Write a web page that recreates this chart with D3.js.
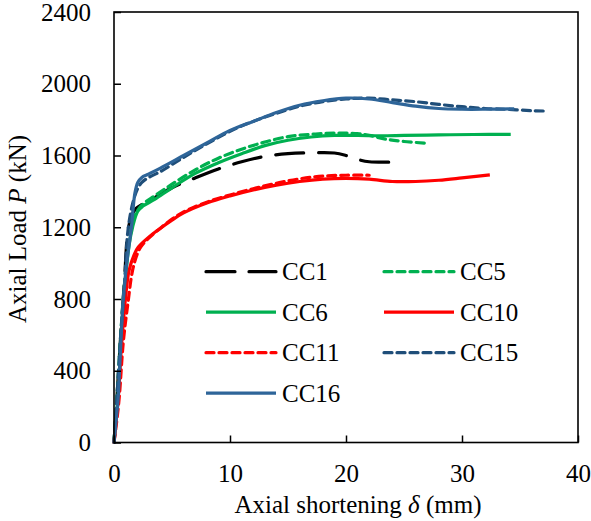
<!DOCTYPE html>
<html lang="en">
<head>
<meta charset="UTF-8">
<title>Axial load vs shortening</title>
<script src="https://d3js.org/d3.v7.min.js"></script>
<style>
  body { margin: 0; background: #fff; }
  svg text { font-family: "Liberation Serif", "Times New Roman", serif; fill: #000; }
</style>
</head>
<body>
<script>
var width = 591, height = 521;
var margin = {left: 114, top: 12, right: 13, bottom: 78.5};

// data: [shortening (mm), load (kN)]
var names = ["CC1", "CC5", "CC6", "CC10", "CC11", "CC15", "CC16"];
var xTicks = [0, 10, 20, 30, 40];
var yTicks = [0, 400, 800, 1200, 1600, 2000, 2400];

var cc1 = [[0,0],[0.15,150],[0.3,300],[0.6,620],[0.9,900],[1.2,1180],[1.5,1260],[1.9,1305],[2.5,1330],[3.5,1365],[5,1420],[7,1475],[9,1525],[11,1565],[13,1595],[15,1610],[17,1615],[19,1614],[20,1600],[21,1578],[22,1565],[24,1563]];
var cc5 = [[0,0],[0.15,150],[0.3,300],[0.6,620],[0.9,880],[1.3,1130],[1.7,1250],[2.1,1300],[2.6,1335],[3.5,1375],[5,1440],[7,1520],[9,1585],[11,1635],[13,1675],[15,1705],[17,1718],[19,1725],[21,1722],[22,1712],[23.5,1690],[25,1678],[27,1668]];
var cc6 = [[0,0],[0.15,120],[0.35,260],[0.6,560],[0.9,850],[1.3,1100],[1.6,1200],[2.05,1290],[2.5,1318],[3.5,1355],[5,1420],[7,1500],[9,1560],[11,1610],[13,1655],[15,1685],[17,1703],[19,1712],[21,1712],[23,1710],[25,1712],[28,1715],[31,1717],[34.2,1718]];
var cc10 = [[0,0],[0.15,100],[0.35,230],[0.6,500],[0.95,777],[1.3,960],[1.8,1056],[2.1,1090],[3,1145],[3.8,1185],[5,1240],[6,1280],[8,1335],[10,1375],[12,1408],[14,1435],[16,1455],[18,1468],[20,1472],[22,1468],[24,1455],[26,1455],[28,1462],[30,1475],[32.4,1492]];
var cc11 = [[0,0],[0.2,100],[0.45,250],[0.8,560],[1.2,777],[1.6,960],[2,1050],[2.3,1090],[3,1140],[4,1195],[5,1245],[6,1285],[8,1340],[10,1380],[12,1415],[14,1445],[16,1470],[18,1485],[20,1490],[22,1490]];
var cc15 = [[0,0],[0.15,150],[0.3,300],[0.6,620],[0.9,870],[1.2,1180],[1.6,1330],[2,1410],[2.4,1450],[3,1478],[4,1510],[6,1590],[8,1665],[10,1735],[12,1790],[14,1835],[16,1875],[18,1900],[20,1915],[22,1920],[24,1910],[26,1900],[28,1885],[30,1872],[32,1862],[34,1857],[36,1850],[37,1848]];
var cc16 = [[0,0],[0.15,100],[0.35,240],[0.55,500],[0.8,800],[1.1,1000],[1.5,1200],[1.8,1390],[2.05,1450],[2.4,1478],[2.9,1494],[4,1530],[6,1600],[8,1670],[10,1740],[12,1790],[14,1840],[16,1880],[18,1905],[20,1920],[22,1915],[24,1895],[26,1875],[28,1862],[30,1858],[32,1858],[34.5,1860]];

var seriesValues = [cc1, cc5, cc6, cc10, cc11, cc15, cc16];
var colors = ["#000000", "#00b050", "#00b050", "#ff0000", "#ff0000", "#1f4e79", "#2e6599"];
var dashes = ["28,15", "8,5", null, null, "8,5", "8,5", null];

var w = width - margin.left - margin.right,
    h = height - margin.top - margin.bottom;
var fs = "25px";

var svg = d3.select("body").append("svg")
    .attr("width", width).attr("height", height)
    .attr("font-family", "Liberation Serif");

var g = svg.append("g")
    .attr("transform", "translate(" + margin.left + "," + margin.top + ")");

var x = d3.scaleLinear().domain([0, 40]).range([0, w]);
var y = d3.scaleLinear().domain([0, 2400]).range([h, 0]);

var line = d3.line()
    .x(function(d){ return x(d[0]); })
    .y(function(d){ return y(d[1]); })
    .curve(d3.curveCatmullRom.alpha(0.5));

// series, drawn so the solid ones sit on top of their dashed twins
var order = [0, 1, 2, 4, 3, 5, 6];
order.forEach(function(i){
    g.append("path")
        .datum(seriesValues[i])
        .attr("d", line)
        .attr("fill", "none")
        .attr("stroke", colors[i])
        .attr("stroke-width", 3.2)
        .attr("stroke-linecap", dashes[i] ? "round" : "butt")
        .attr("stroke-dasharray", dashes[i]);
});

// axes with inward ticks
var xAxis = g.append("g").attr("transform", "translate(0," + h + ")")
    .call(d3.axisBottom(x).tickValues(xTicks).tickSize(-7).tickPadding(22).tickFormat(d3.format("d")));
var yAxis = g.append("g")
    .call(d3.axisLeft(y).tickValues(yTicks).tickSize(-7).tickPadding(23).tickFormat(d3.format("d")));

[xAxis, yAxis].forEach(function(a){
    a.attr("font-family", "Liberation Serif");
    a.select(".domain").remove();
    a.selectAll("line").attr("stroke", "#000").attr("stroke-width", 1.5);
    a.selectAll("text").style("font-size", fs);
});

// plot frame
g.append("rect")
    .attr("width", w).attr("height", h)
    .attr("fill", "none").attr("stroke", "#000").attr("stroke-width", 1.6);

// axis titles
var xt = svg.append("text")
    .attr("x", 358).attr("y", 513)
    .attr("text-anchor", "middle").style("font-size", fs);
xt.append("tspan").text("Axial shortening ");
xt.append("tspan").style("font-style", "italic").text("δ");
xt.append("tspan").text(" (mm)");

var yt = svg.append("text")
    .attr("transform", "translate(26,229) rotate(-90)")
    .attr("text-anchor", "middle").style("font-size", fs);
yt.append("tspan").text("Axial Load ");
yt.append("tspan").style("font-style", "italic").text("P");
yt.append("tspan").text(" (kN)");

// legend: two columns, filled row by row
var legend = g.selectAll(".legend").data(names).enter().append("g")
    .attr("transform", function(d, i){
        return "translate(" + (i % 2 ? 270 : 92) + "," + (259.7 + Math.floor(i / 2) * 40.5) + ")";
    });

legend.append("line")
    .attr("x1", 0).attr("x2", 70)
    .attr("stroke", function(d, i){ return colors[i]; })
    .attr("stroke-width", 3.2)
    .attr("stroke-linecap", function(d, i){ return dashes[i] ? "round" : "butt"; })
    .attr("stroke-dasharray", function(d, i){ return i === 0 ? "29,14" : dashes[i]; });

legend.append("text")
    .attr("x", 76).attr("dy", "0.35em")
    .style("font-size", fs)
    .text(function(d){ return d; });
</script>
</body>
</html>
